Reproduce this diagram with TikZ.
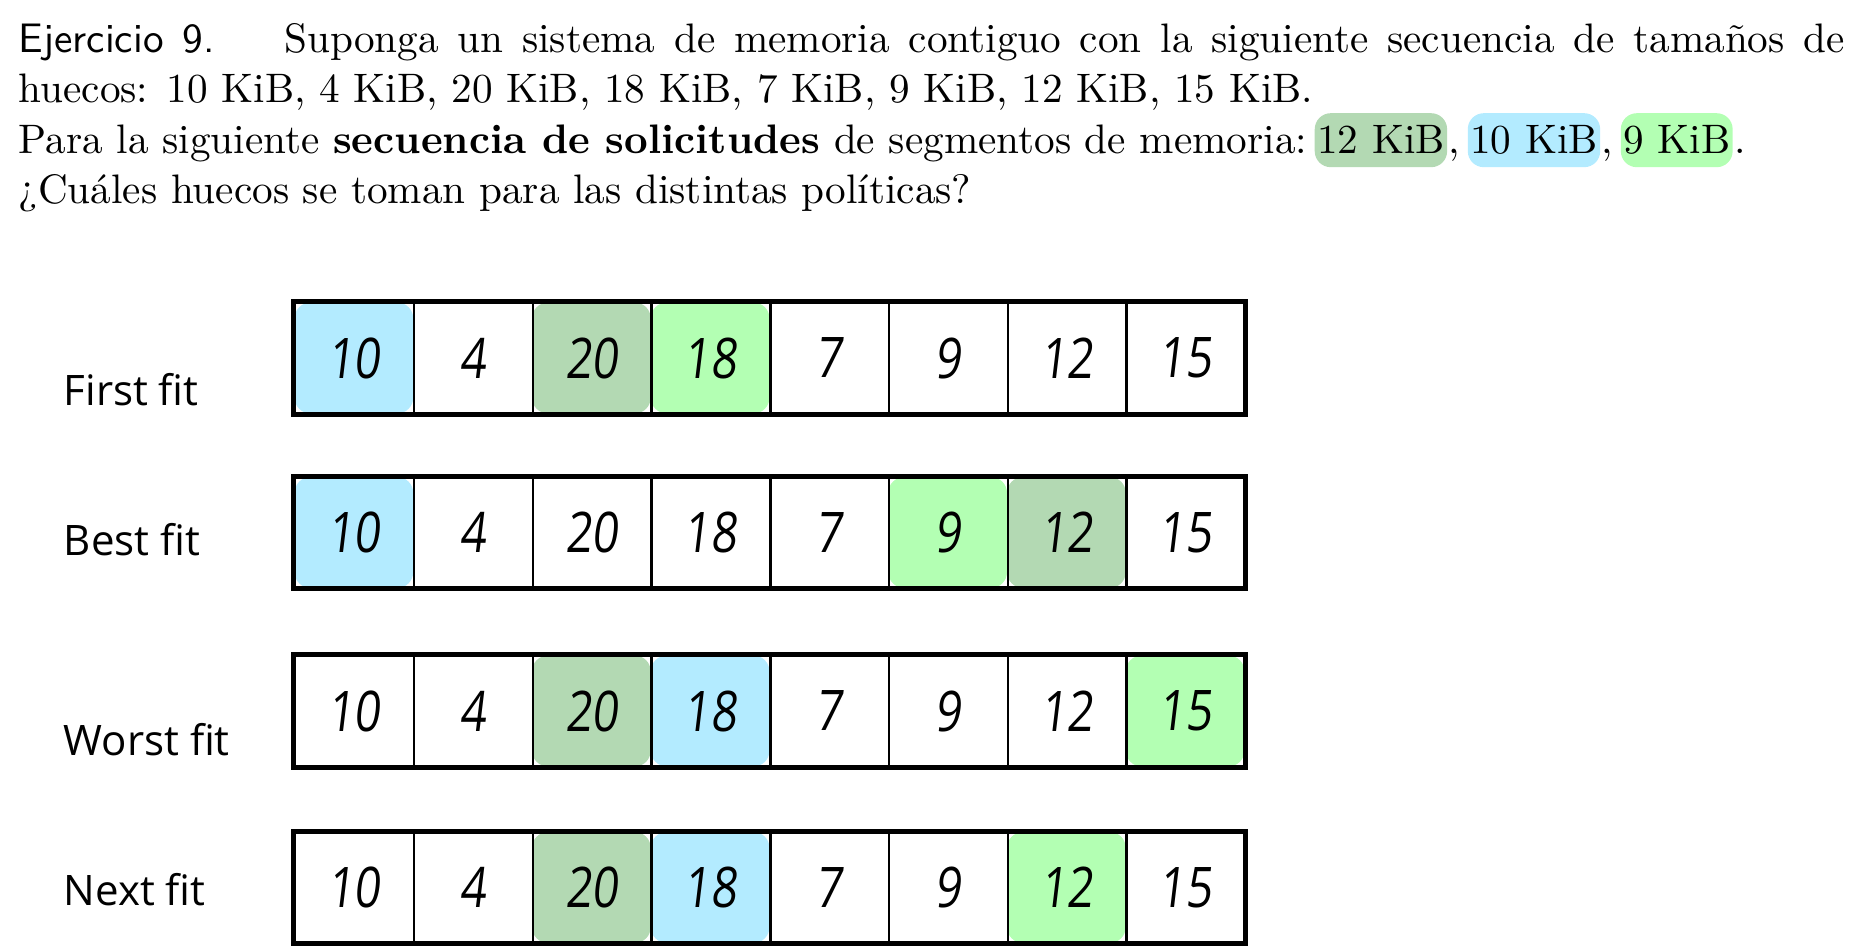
\documentclass[tikz,border=0pt]{standalone}
\usepackage{fontspec}
\newfontfamily\fitfont{Open Sans}
\newfontfamily\handfont{Open Sans}[FakeSlant=0.12, FakeStretch=0.82]
\usepackage{tikz}
\usepackage{xcolor}
\usetikzlibrary{
    positioning
}
\definecolor{reqblue}{RGB}{179,235,255}
\definecolor{reqdark}{RGB}{179,217,179}
\definecolor{reqlight}{RGB}{179,255,179}

\begin{document}
\begin{tikzpicture}[x=0.25pt, y=-0.25pt,
    hole/.style={minimum width=29.69pt, minimum height=27.75pt, inner sep=0pt,
        rounded corners=4pt, font=\handfont\fontsize{14}{14}\selectfont},
    policy/.style={anchor=base west, inner sep=0pt, font=\fitfont\fontsize{10.5}{12}\selectfont},
    line/.style={anchor=base west, inner sep=0pt},
    req/.style={inner xsep=0.6pt, inner ysep=3.3pt, text height=6.9pt, text depth=0pt, rounded corners=4pt},
    frame/.style={line width=1.3pt},
    wall/.style={line width=0.65pt},
    every node/.append style={font=\fontsize{10.3}{12.5}\selectfont}]
    \useasboundingbox (0,0) rectangle (1862,951);

    % statement
    \node[line] (l1) at (18,53) {\makebox[456.5pt][s]{\textsf{Ejercicio 9.}\hspace{9pt} Suponga un sistema de memoria contiguo con la siguiente secuencia de tamaños de}};
    \node[line] (l2) at (18,103) {huecos: 10 KiB, 4 KiB, 20 KiB, 18 KiB, 7 KiB, 9 KiB, 12 KiB, 15 KiB.};
    \node[line] (l3) at (18,154) {Para la siguiente \textbf{secuencia de solicitudes} de segmentos de memoria:};
    \node[req, fill=reqdark, base right=1.5pt of l3] (r1) {12 KiB};
    \node[inner sep=0pt, base right=0pt of r1] (c1) {,};
    \node[req, fill=reqblue, base right=1.5pt of c1] (r2) {10 KiB};
    \node[inner sep=0pt, base right=0pt of r2] (c2) {,};
    \node[req, fill=reqlight, base right=1.5pt of c2] (r3) {9 KiB};
    \node[inner sep=0pt, base right=0pt of r3] (c3) {.};
    \node[line] (l4) at (18,204) {¿Cuáles huecos se toman para las distintas políticas?};

    % policies
    \node[policy] (ff) at (63,406) {First fit};
    \node[policy] (bf) at (63,556) {Best fit};
    \node[policy] (wf) at (63,755) {Worst fit};
    \node[policy] (nf) at (63,905) {Next fit};

    % holes
    \foreach \size/\col [count=\i] in {10/reqblue,4/white,20/reqdark,18/reqlight,7/white,9/white,12/white,15/white}
        \node[hole, fill=\col] (ff-\i) at ({294.5+(\i-0.5)*118.75}, 358) {\size};
    \foreach \size/\col [count=\i] in {10/reqblue,4/white,20/white,18/white,7/white,9/reqlight,12/reqdark,15/white}
        \node[hole, fill=\col] (bf-\i) at ({294.5+(\i-0.5)*118.75}, 532.5) {\size};
    \foreach \size/\col [count=\i] in {10/white,4/white,20/reqdark,18/reqblue,7/white,9/white,12/white,15/reqlight}
        \node[hole, fill=\col] (wf-\i) at ({294.5+(\i-0.5)*118.75}, 711) {\size};
    \foreach \size/\col [count=\i] in {10/white,4/white,20/reqdark,18/reqblue,7/white,9/white,12/reqlight,15/white}
        \node[hole, fill=\col] (nf-\i) at ({294.5+(\i-0.5)*118.75}, 887.5) {\size};

    \foreach \row in {ff,bf,wf,nf} {
        \foreach \i in {1,...,7}
            \draw[wall] (\row-\i.north east) -- (\row-\i.south east);
        \draw[frame] (\row-1.north west) rectangle (\row-8.south east);
    }
\end{tikzpicture}
\end{document}
